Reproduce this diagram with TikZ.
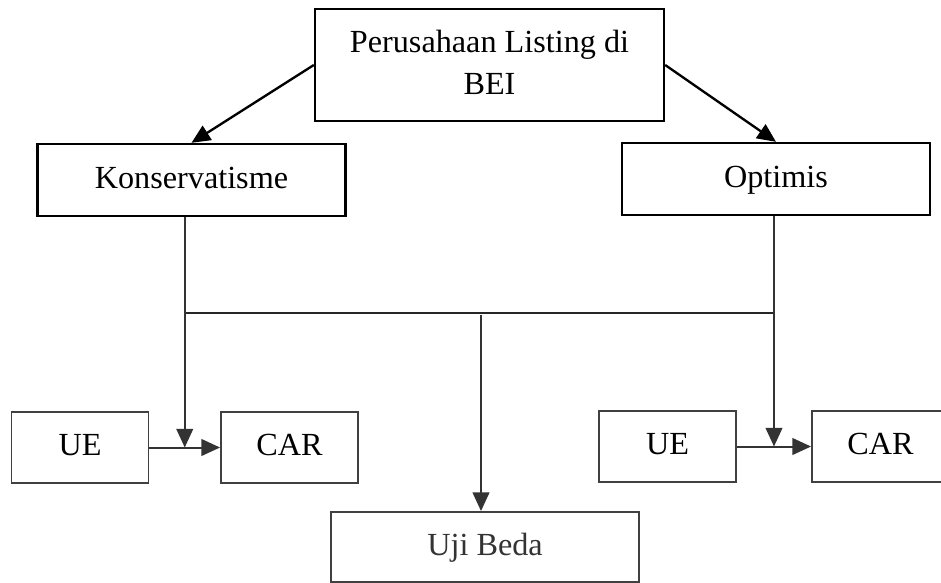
\documentclass[tikz,border=0pt]{standalone}
\usepackage{fontspec}
\setmainfont{Liberation Serif}
\usetikzlibrary{arrows.meta, calc}

\begin{document}
\begin{tikzpicture}[
        x=0.03cm, y=-0.03cm,
        >={Triangle[length=0.56cm, width=0.5cm]},
        box/.style={draw, line width=2pt, minimum height=2.16cm, align=center, inner sep=0pt, text depth=0.45em, font=\fontsize{27.5}{36}\selectfont},
        topbox/.style={box, minimum width=10.47cm, minimum height=3.36cm},
        groupbox/.style={box, minimum width=9.24cm},
        smallbox/.style={box, draw=black!75, line width=1.6pt, minimum width=4.11cm, minimum height=2.13cm},
        testbox/.style={smallbox, minimum width=9.24cm, minimum height=2.1cm, text=black!80},
        link/.style={->, line width=2pt},
        sublink/.style={->, line width=1.7pt, black!80}
    ]
    \useasboundingbox (0,0) rectangle (941,583);

    % --- Top: population ---
    \node[topbox] (firm) at (489.5,65) {Perusahaan Listing di\\BEI};

    % --- Two groups ---
    \node[groupbox] (kons) at (191.5,180) {Konservatisme};
    \node[groupbox] (opt) at (776,179) {Optimis};

    % --- Event study pairs ---
    \node[smallbox] (ue1) at (80,447.5) {UE};
    \node[smallbox] (car1) at (289.5,447.5) {CAR};
    \node[smallbox] (ue2) at (667.5,446.5) {UE};
    \node[smallbox] (car2) at (880.5,446.5) {CAR};

    % --- Test ---
    \node[testbox] (uji) at (485,547) {Uji Beda};

    % --- Arrows ---
    \draw[link] (firm.west) -- (kons.north);
    \draw[link] (firm.east) -- (opt.north);

    \coordinate (jl) at ($(ue1.east)!0.5!(car1.west)$);
    \coordinate (jr) at ($(ue2.east)!0.5!(car2.west)$);
    \coordinate (bus) at (481,313);
    \draw[line width=1.7pt, black!85] (bus -| jl) -- (bus -| jr);
    \draw[sublink] (kons.south -| jl) -- (jl);
    \draw[sublink] (opt.south -| jr) -- (jr);
    \draw[sublink] ([yshift=-2pt]bus) -- (bus |- uji.north);
    \draw[sublink] (ue1) -- (car1);
    \draw[sublink] (ue2) -- (car2);
\end{tikzpicture}
\end{document}
